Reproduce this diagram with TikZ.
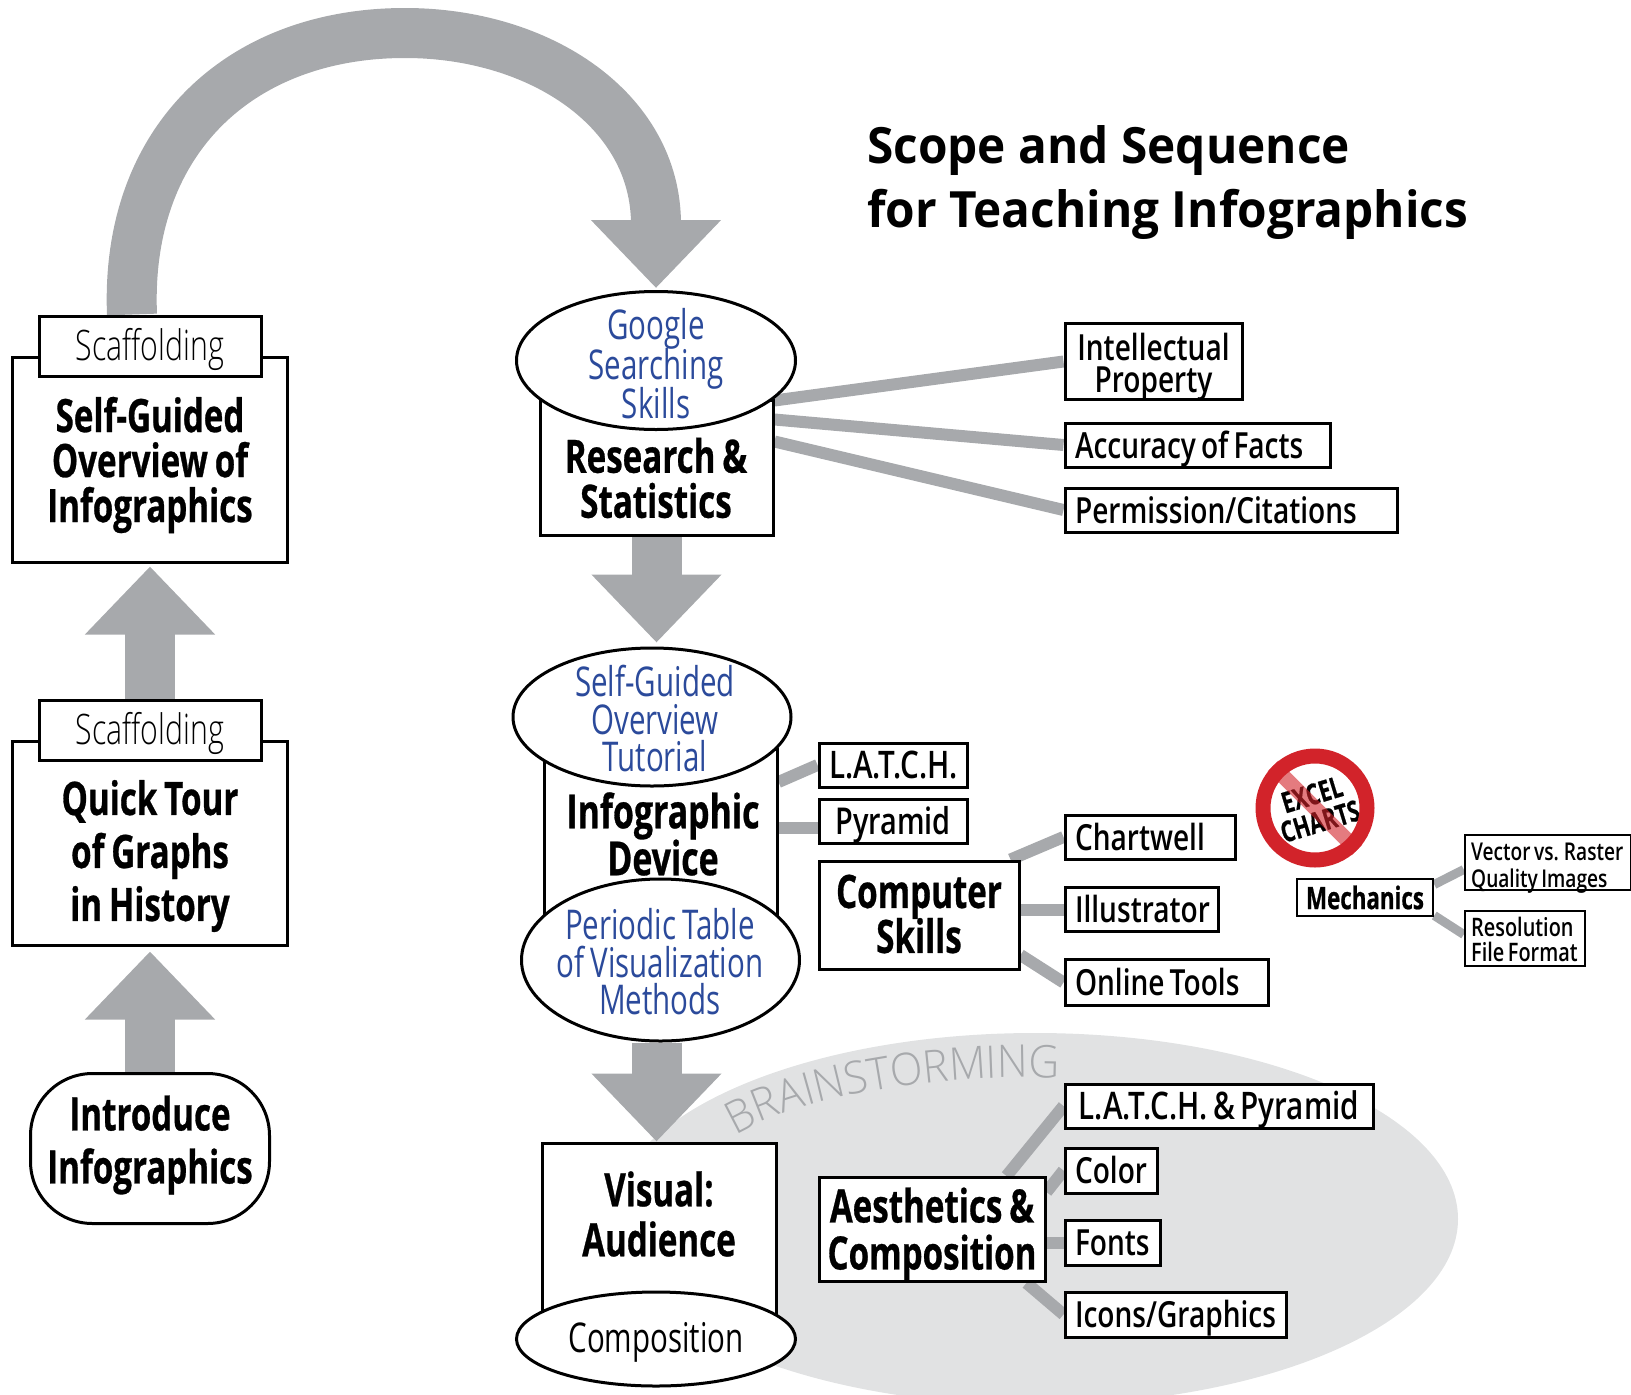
\documentclass[tikz,border=0pt]{standalone}
\usepackage{fontspec}
\usetikzlibrary{arrows.meta, backgrounds, shapes.geometric, decorations.text, calc}
\setmainfont{Open Sans}
\newfontfamily\heavyface[FakeStretch=0.72, FakeBold=0.6, WordSpace=0.8]{Open Sans}
\newcommand{\heavyfont}{\heavyface\bfseries}
\newfontfamily\condfont[FakeStretch=0.72, WordSpace=0.8]{Open Sans}
\newfontfamily\lightfont[FakeStretch=0.72]{Open Sans Light}
\newfontfamily\brainfont[FakeStretch=0.95]{Open Sans Light}
\newfontfamily\semifont[FakeStretch=0.78, WordSpace=0.7]{Open Sans Semibold}
\newfontfamily\titlefont[FakeStretch=0.955]{Open Sans}
\lineskiplimit=-100pt
\definecolor{arrowgray}{HTML}{A7A9AC}
\definecolor{brainfill}{HTML}{E1E2E3}
\definecolor{toolblue}{HTML}{2B4A9B}
\definecolor{banred}{HTML}{D2232A}
\tikzset{
	sized/.style 2 args={minimum width=#1pt, minimum height=#2pt},
	boxnode/.style={draw, line width=3pt, fill=white, inner sep=0pt, align=center},
	toolnode/.style={ellipse, draw, line width=3pt, fill=white, inner sep=0pt},
	toollabel/.style={inner sep=0pt, align=center, text=toolblue, font=\condfont\fontsize{41}{37.5}\selectfont},
	mainlabel/.style={inner sep=0pt, align=center, font=\heavyfont\fontsize{46}{45}\selectfont},
	itemnode/.style={boxnode, text height=30pt, text depth=4pt, font=\semifont\fontsize{36}{32}\selectfont},
	itemleft/.style 2 args={itemnode, minimum height=#2pt, inner xsep=10pt, text width=#1pt-20pt, align=flush left},
	smallitem/.style={boxnode, line width=2.5pt},
	smalllabel/.style={inner sep=0pt, align=left, anchor=west, font=\semifont\fontsize{24.5}{27}\selectfont},
	scafnode/.style={boxnode, text height=38pt, text depth=9pt, font=\lightfont\fontsize{42}{44}\selectfont},
	blockarrow/.style={arrowgray, line width=50pt, -{Triangle[length=68pt,width=126pt]}},
	spoke/.style={arrowgray, line width=12pt}
}
\begin{document}
\begin{tikzpicture}[x=1pt, y=-1pt]
	\useasboundingbox (0,0) rectangle (1631,1395);

	% Left column
	\node[boxnode, sized={275}{205}] (selfbox) at (150,459.5) {};
	\node[mainlabel] (selflabel) at (150,465) {Self-Guided\\Overview of\\Infographics};
	\node[scafnode, sized={222}{60}] (scaftop) at (150,346) {Scaffolding};
	\node[boxnode, sized={275}{204}] (tourbox) at (150,843) {};
	\node[mainlabel, font=\heavyfont\fontsize{46}{53}\selectfont] (tourlabel) at (150,856) {Quick Tour\\of Graphs\\in History};
	\node[scafnode, sized={222}{60}] (scaflow) at (150,730) {Scaffolding};
	\node[boxnode, rounded corners=62pt, sized={239}{150}] (intro) at (150,1148.5) {};
	\node[mainlabel, font=\heavyfont\fontsize{46}{53}\selectfont] (introlabel) at (150,1145) {Introduce\\Infographics};

	% Centre column
	\node[boxnode, sized={233}{135}] (resbox) at (656.5,467.5) {};
	\node[mainlabel] (reslabel) at (656,478) {Research \&\\Statistics};
	\node[toolnode, sized={279}{138}] (googleell) at (656,360.5) {};
	\node[toollabel, font=\condfont\fontsize{41}{39.5}\selectfont] (googlelabel) at (656,364) {Google\\Searching\\Skills};

	\node[boxnode, sized={233}{166}] (devbox) at (660.5,832) {};
	\node[mainlabel, font=\heavyfont\fontsize{47}{47}\selectfont] (devlabel) at (663,834) {Infographic\\Device};
	\node[toolnode, sized={278}{138}] (tutorell) at (652,717) {};
	\node[toollabel] (tutorlabel) at (655,719) {Self-Guided\\Overview\\Tutorial};
	\node[toolnode, sized={278}{162}] (periodell) at (660.5,960) {};
	\node[toollabel] (periodlabel) at (660,962) {Periodic Table\\of Visualization\\Methods};

	\node[boxnode, sized={234}{180}] (visbox) at (659,1233) {};
	\node[mainlabel, font=\heavyfont\fontsize{46}{50}\selectfont] (vislabel) at (659,1214) {Visual:\\Audience};
	\node[toolnode, sized={279}{94}] (compell) at (656,1339) {};
	\node[toollabel, text=black] (complabel) at (656,1342) {Composition};

	% Research items
	\node[boxnode, sized={177}{76}] (ipnode) at (1153.5,361.5) {};
	\node[inner sep=0pt, align=center, font=\semifont\fontsize{36}{32}\selectfont] (iplabel) at (1153.5,367) {Intellectual\\Property};
	\node[itemleft={265}{44}] (factnode) at (1197.5,445) {Accuracy of Facts};
	\node[itemleft={332}{44}] (permnode) at (1231,510) {Permission/Citations};

	% Device items
	\node[itemleft={148}{44}, font=\semifont\fontsize{38}{32}\selectfont] (latchnode) at (893,765) {L.A.T.C.H.};
	\node[itemnode, sized={148}{44}, font=\semifont\fontsize{37}{32}\selectfont] (pyrnode) at (893,821) {Pyramid};

	% Computer skills
	\node[boxnode, sized={200}{108}] (compnode) at (919,915) {};
	\node[mainlabel] (compskill) at (919,914) {Computer\\Skills};
	\node[itemleft={170}{44}] (chartnode) at (1150,837) {Chartwell};
	\node[itemleft={153}{44}] (illnode) at (1141.5,909.5) {Illustrator};
	\node[itemleft={203}{46}] (onlinenode) at (1166.5,982.5) {Online Tools};

	% Mechanics
	\node[boxnode, line width=2.5pt, sized={136}{37}, font=\heavyfont\fontsize{31}{32}\selectfont] (mechnode) at (1365,897.5) {Mechanics};
	\node[smallitem, sized={166}{55}] (vectornode) at (1548,862.5) {};
	\node[smalllabel] (vectorlabel) at (1471,868) {Vector vs. Raster\\Quality Images};
	\node[smallitem, sized={120}{55}] (resolnode) at (1525,938.5) {};
	\node[smalllabel, font=\semifont\fontsize{25.5}{25}\selectfont] (resollabel) at (1471,939) {Resolution\\File Format};

	% No excel sign
	\node[inner sep=0pt, align=center, rotate=17, font=\heavyfont\fontsize{29}{28}\selectfont] (excelnode) at (1316,808) {EXCEL\\CHARTS};
	\node[circle, draw=banred, line width=15pt, minimum size=104pt, inner sep=0pt] (banring) at (1315,808) {};
	\draw[banred, opacity=0.6, line width=15pt] (banring.north west) -- (banring.south east);

	% Aesthetics
	\node[boxnode, sized={226}{104}] (aesnode) at (932,1229.5) {};
	\node[mainlabel, font=\heavyfont\fontsize{46}{47}\selectfont] (aeslabel) at (932,1234) {Aesthetics \&\\Composition};
	\node[itemnode, sized={308}{44}, font=\semifont\fontsize{38}{32}\selectfont] (lpnode) at (1219,1106) {L.A.T.C.H. \& Pyramid};
	\node[itemleft={92}{45}] (colornode) at (1111,1170.5) {Color};
	\node[itemleft={95}{45}] (fontnode) at (1112.5,1242.5) {Fonts};
	\node[itemleft={221}{45}] (iconnode) at (1175.5,1314.5) {Icons/Graphics};

	% Title
	\node[inner sep=0pt, align=left, anchor=base west, font=\titlefont\bfseries\fontsize{50}{63.5}\selectfont] (titlenode) at (867,227) {Scope and Sequence\\for Teaching Infographics};

	\begin{scope}[on background layer]
		% Brainstorming area
		\fill[brainfill] (1035,1219) ellipse [x radius=423, y radius=186];
		\path[decorate, decoration={text along path, text align=center,
				text={|\brainfont\fontsize{45}{45}\selectfont\color{arrowgray}|BRAINSTORMING}}]
			(733,1137) .. controls (790,1100) and (930,1072) .. (1062,1078);

		% Flow arrows
		\draw[blockarrow] (resbox.south) -- ([yshift=4pt]resbox.south |- tutorell.north);
		\draw[blockarrow] (periodell.south -| resbox.south) -- (resbox.south |- visbox.north);
		\draw[blockarrow] (scaflow.north) -- ([yshift=-3pt]selfbox.south);
		\draw[blockarrow] (intro.north) -- ([yshift=-5pt]tourbox.south);
		\draw[blockarrow] ([xshift=-18pt]scaftop.north) .. controls (125,140) and (240,33) .. (405,33) .. controls (540,33) and (656,110) .. ([yshift=2pt]googleell.north);

		% Spokes
		\draw[spoke] ([yshift=67pt]resbox.east) -- (ipnode.west);
		\draw[spoke] ([yshift=48pt]resbox.east) -- (factnode.west);
		\draw[spoke] ([yshift=26pt]resbox.east) -- (permnode.west);
		\draw[spoke] ([yshift=50pt]devbox.east) -- (latchnode.west);
		\draw[spoke] ([yshift=-7pt]pyrnode.west) -- ([yshift=-7pt]pyrnode.west -| devbox.east);
		\draw[spoke] ([xshift=-10pt]compnode.north east) -- (chartnode.west);
		\draw[spoke] (illnode.west) -- (illnode.west -| compnode.east);
		\draw[spoke] ([yshift=-40pt]compnode.east) -- (onlinenode.west);
		\draw[spoke, line width=9pt] ([yshift=13pt]mechnode.east) -- ([yshift=-7pt]vectornode.west);
		\draw[spoke, line width=9pt] ([yshift=-18pt]mechnode.east) -- ([yshift=4pt]resolnode.west);
		\draw[spoke] ([xshift=-40pt]aesnode.north east) -- (lpnode.west);
		\draw[spoke] ([yshift=-16pt]aesnode.north east) -- (colornode.west);
		\draw[spoke] (fontnode.west) -- (fontnode.west -| aesnode.east);
		\draw[spoke] ([xshift=-20pt]aesnode.south east) -- (iconnode.west);
	\end{scope}
\end{tikzpicture}
\end{document}
